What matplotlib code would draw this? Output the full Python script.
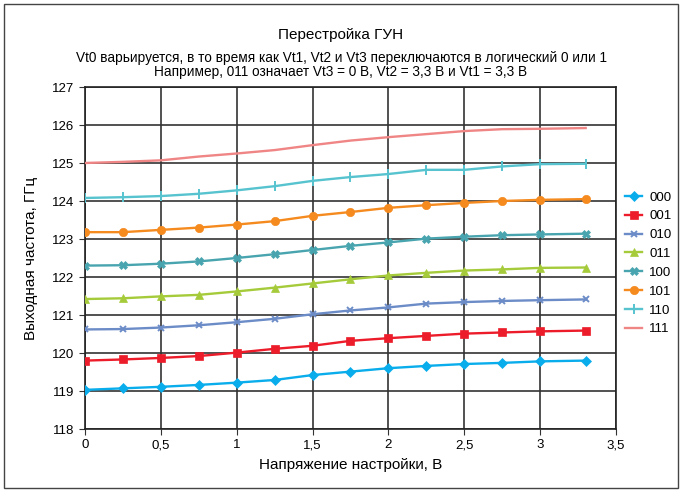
import numpy as np
import matplotlib
matplotlib.use("Agg")
import matplotlib.pyplot as plt
from matplotlib.patches import Rectangle
from matplotlib.ticker import FuncFormatter

plt.rcParams["font.family"] = ["Liberation Sans", "DejaVu Sans"]

# ── Data ─────────────────────────────────────────────────────────────────────
vtune = [0, 0.25, 0.5, 0.75, 1.0, 1.25, 1.5, 1.75, 2.0, 2.25, 2.5, 2.75, 3.0, 3.3]

f_000 = [119.03, 119.07, 119.11, 119.16, 119.22, 119.29, 119.42, 119.51, 119.60, 119.66, 119.71, 119.74, 119.78, 119.80]
f_001 = [119.80, 119.83, 119.87, 119.92, 120.01, 120.11, 120.19, 120.32, 120.39, 120.45, 120.51, 120.54, 120.57, 120.59]
f_010 = [120.62, 120.63, 120.67, 120.73, 120.81, 120.90, 121.02, 121.12, 121.20, 121.30, 121.34, 121.37, 121.39, 121.41]
f_011 = [121.42, 121.44, 121.49, 121.53, 121.62, 121.72, 121.83, 121.94, 122.04, 122.11, 122.17, 122.20, 122.24, 122.25]
f_100 = [122.30, 122.31, 122.35, 122.41, 122.50, 122.60, 122.71, 122.82, 122.91, 123.01, 123.06, 123.10, 123.12, 123.14]
f_101 = [123.18, 123.18, 123.24, 123.30, 123.38, 123.47, 123.61, 123.71, 123.82, 123.89, 123.95, 124.00, 124.03, 124.05]
f_110 = [124.08, 124.10, 124.13, 124.19, 124.28, 124.39, 124.53, 124.63, 124.71, 124.82, 124.82, 124.91, 124.97, 124.98]
f_111 = [125.00, 125.03, 125.07, 125.17, 125.25, 125.34, 125.47, 125.59, 125.68, 125.76, 125.84, 125.89, 125.90, 125.92]

codes = ["000", "001", "010", "011", "100", "101", "110", "111"]
series = [f_000, f_001, f_010, f_011, f_100, f_101, f_110, f_111]

# ── Styles ───────────────────────────────────────────────────────────────────
colors  = ["#0AADEB", "#EC1C2A", "#6C8CC8", "#A5CB3A", "#48A4AE", "#F58A1F", "#56C3CF", "#F08585"]
markers = ["D", "s", "x", "^", "X", "o", "|", None]
msizes  = [5, 6, 5, 6, 6, 6, 7, 0]

fig = plt.figure(figsize=(6.82, 4.90), dpi=100)
ax = fig.add_axes([85 / 682, 1 - 429 / 490, (616 - 85) / 682, (429 - 87) / 490])

for y, lab, c, m, ms in zip(series, codes, colors, markers, msizes):
    ax.plot(vtune, y, color=c, lw=1.7, marker=m, markersize=ms,
            markeredgewidth=1.4 if m in ("x", "|") else 0.5,
            markeredgecolor=c, label=lab, zorder=3)

ax.set_xlim(0, 3.5)
ax.set_ylim(118, 127)
ax.set_xticks(np.arange(0, 3.51, 0.5))
ax.set_yticks(np.arange(118, 127.1, 1))
ax.xaxis.set_major_formatter(FuncFormatter(lambda v, p: f"{v:g}".replace(".", ",")))
ax.tick_params(labelsize=9.5, length=4, direction="out", color="#333333")
ax.grid(True, color="#333333", lw=1.2)
for s in ax.spines.values():
    s.set_color("#222222")
    s.set_linewidth(1.2)

ax.set_xlabel("Напряжение настройки, В", fontsize=11, labelpad=5)
ax.set_ylabel("Выходная частота, ГГц", fontsize=11, labelpad=10)

fig.text(0.5, 1 - 35 / 490, "Перестройка ГУН", ha="center", va="center", fontsize=11)
fig.text(0.5, 1 - 58 / 490, "Vt0 варьируется, в то время как Vt1, Vt2 и Vt3 переключаются в логический 0 или 1",
         ha="center", va="center", fontsize=9.8)
fig.text(0.5, 1 - 72 / 490, "Например, 011 означает Vt3 = 0 В, Vt2 = 3,3 В и Vt1 = 3,3 В",
         ha="center", va="center", fontsize=9.8)

ax.legend(loc="upper left", bbox_to_anchor=(620 / 682, 1 - 186 / 490),
          bbox_transform=fig.transFigure, frameon=False, fontsize=9.5,
          handlelength=1.3, handletextpad=0.5, labelspacing=0.5, borderaxespad=0)

# frame round the whole figure
fig.patches.append(Rectangle((4 / 682, 2 / 490), 674 / 682, 484 / 490,
                             transform=fig.transFigure, fill=False,
                             edgecolor="#444444", lw=1.0))

fig.savefig("out.png", dpi=100)
